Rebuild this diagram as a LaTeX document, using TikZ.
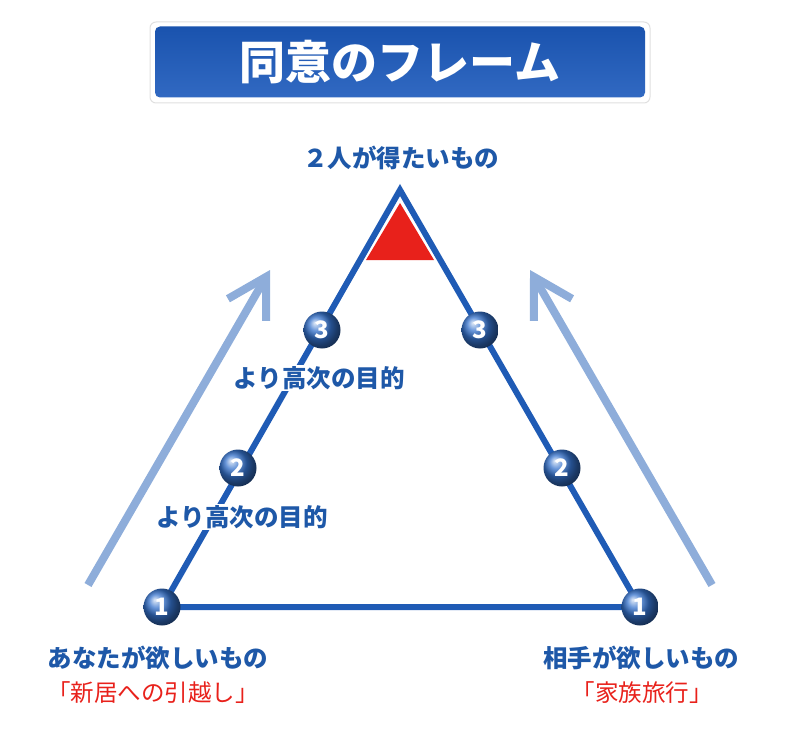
\documentclass[tikz,border=0pt]{standalone}
\usepackage{fontspec}
\setmainfont{Noto Sans CJK JP}
\usepackage{tikz}
\usetikzlibrary{arrows.meta,positioning,shadings}
\definecolor{frameblue}{HTML}{1F5BB5}
\definecolor{ballblue}{HTML}{3572CC}
\definecolor{textblue}{HTML}{1E58A8}
\definecolor{liftblue}{HTML}{8EADDA}
\definecolor{peakred}{HTML}{E8211B}
\definecolor{titletop}{HTML}{1A53AE}
\definecolor{titlebot}{HTML}{3169C2}

\begin{document}
\begin{tikzpicture}[x=1pt,y=-1pt,
  lbl/.style={font=\bfseries\fontsize{24.5}{27}\selectfont,text=textblue,inner sep=1pt},
  want/.style={font=\fontsize{23.5}{26}\selectfont,text=peakred,inner sep=1pt},
  num/.style={circle,minimum size=37pt,inner sep=0pt,shading=ball,ball color=ballblue,
              text=white,font=\bfseries\fontsize{24}{24}\selectfont},
  lift/.style={draw=liftblue,line width=8pt,-{Straight Barb[length=38pt,width=44pt,line width=8pt]}}]
\useasboundingbox (0,0) rectangle (800,730);
% title
\draw[rounded corners=6pt,draw=black!12,fill=white,line width=1pt] (150,22) rectangle (650,103);
\node[rounded corners=5pt,top color=titletop,bottom color=titlebot,minimum width=490pt,minimum height=71pt,
      text=white,font=\bfseries\fontsize{46}{46}\selectfont] (title) at (400,62) {同意のフレーム};
% lifting arrows
\coordinate (la0) at (88,585);  \coordinate (la1) at (270,270);
\coordinate (ra0) at (712,585); \coordinate (ra1) at (530,270);
\draw[lift] (la0) -- (la1);
\draw[lift] (ra0) -- (ra1);
% triangle
\coordinate (top) at (400,190);
\coordinate (p1) at (162,607); \coordinate (p2) at (238,468); \coordinate (p3) at (322,330);
\coordinate (q1) at (640,607); \coordinate (q2) at (562,468); \coordinate (q3) at (480,330);
\draw[frameblue,line width=6pt,line join=miter] (p1) -- (top) -- (q1) -- cycle;
\fill[peakred] (400,203) -- (434,260) -- (366,260) -- cycle;
\node[lbl] (goal) at (401,158) {２人が得たいもの};
% steps
\foreach \c/\n in {p1/1,p2/2,p3/3,q1/1,q2/2,q3/3} {\node[num] (n\c) at (\c) {\n};}
\node[lbl,fill=white] (high3) at (319,378) {より高次の目的};
\node[lbl,fill=white] (high2) at (242,517) {より高次の目的};
% wants
\node[lbl] (mine) at (158,658) {あなたが欲しいもの};
\node[want] (minex) at (153,693) {「新居への引越し」};
\node[lbl] (yours) at (641,658) {相手が欲しいもの};
\node[want] (yoursx) at (642,693) {「家族旅行」};
\end{tikzpicture}
\end{document}
